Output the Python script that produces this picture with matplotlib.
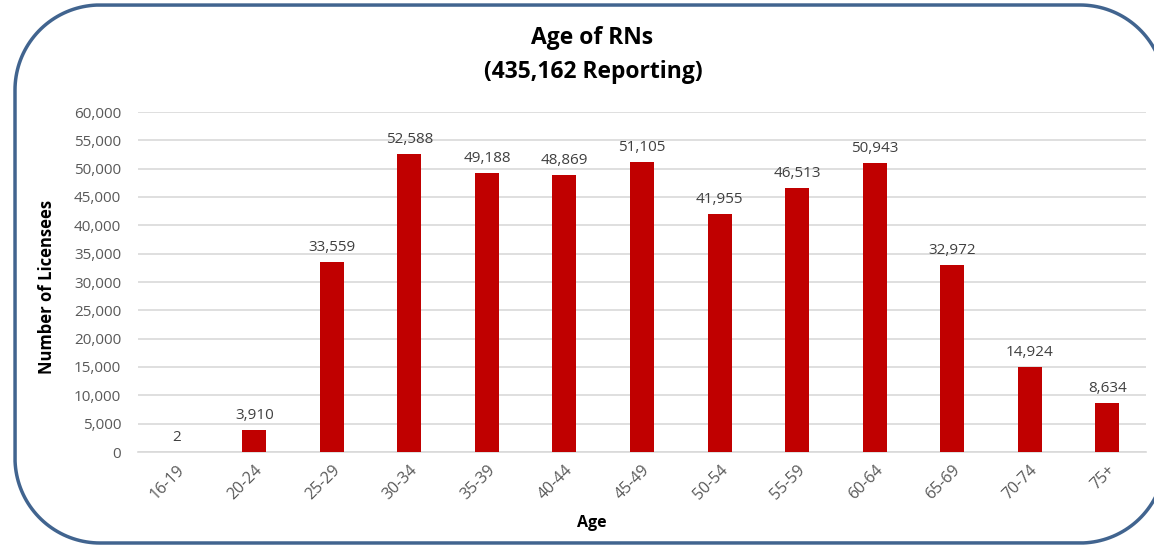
import matplotlib
matplotlib.use("Agg")
import numpy as np
import matplotlib.pyplot as plt
from matplotlib.lines import Line2D
from matplotlib.transforms import IdentityTransform

categories = ["16-19", "20-24", "25-29", "30-34", "35-39", "40-44", "45-49",
              "50-54", "55-59", "60-64", "65-69", "70-74", "75+"]
values = [2, 3910, 33559, 52588, 49188, 48869, 51105, 41955, 46513, 50943, 32972, 14924, 8634]
yticks = list(range(0, 60001, 5000))

plt.rcParams['font.family'] = ['Open Sans', 'DejaVu Sans']

W, H, DPI = 1154, 546, 100
fig = plt.figure(figsize=(W / DPI, H / DPI), dpi=DPI)
ax = fig.add_axes([138 / W, 1 - 452 / H, (1146 - 138) / W, (452 - 112) / H])

x = list(range(len(categories)))
ax.bar(x, values, width=0.31, color="#C00000", zorder=3)
ax.set_xlim(-0.5, len(categories) - 0.5)
ax.set_ylim(0, 60000)
ax.set_yticks(yticks)
ax.set_yticklabels([f"{v:,}" for v in yticks], fontsize=11, color="#595959")
ax.set_xticks(x)
ax.set_xticklabels(categories, rotation=45, ha="right", rotation_mode="anchor",
                   fontsize=11.5, color="#595959")
ax.tick_params(axis="both", length=0)
ax.tick_params(axis="y", pad=12)
ax.tick_params(axis="x", pad=7)
ax.grid(axis="y", color="#D9D9D9", linewidth=1.2, zorder=0)
for s in ["top", "right", "left"]:
    ax.spines[s].set_visible(False)
ax.spines["bottom"].set_color("#D9D9D9")
ax.spines["bottom"].set_linewidth(1.2)

for xi, v in zip(x, values):
    ax.annotate(f"{v:,}", (xi, v), xytext=(0, 5), textcoords="offset points",
                ha="center", va="bottom", fontsize=11, color="#404040")

fig.text(47 / W, 1 - 287 / H, "Number of Licensees", rotation=90, ha="center", va="center",
         fontsize=12, fontweight="bold", color="#000000")
fig.text(592 / W, 1 - 523 / H, "Age", ha="center", va="center",
         fontsize=11.5, fontweight="bold", color="#000000")

fig.text(592 / W, 1 - 38 / H, "Age of RNs", ha="center", va="center",
         fontsize=16.5, fontweight="bold")
fig.text(593 / W, 1 - 72 / H, "(435,162 Reporting)", ha="center", va="center",
         fontsize=16.5, fontweight="bold")

# rounded frame in pixel coordinates (decoration)
r = 85
x0, x1 = 15, 1165
y0, y1 = 3, 541  # from bottom
def arc(cx, cy, a0, a1):
    t = np.linspace(np.radians(a0), np.radians(a1), 40)
    return cx + r * np.cos(t), cy + r * np.sin(t)
pts_x, pts_y = [], []
for cx, cy, a0, a1 in [(x1 - r, y1 - r, 0, 90), (x0 + r, y1 - r, 90, 180),
                       (x0 + r, y0 + r, 180, 270), (x1 - r, y0 + r, 270, 360)]:
    ax_, ay_ = arc(cx, cy, a0, a1)
    pts_x.extend(ax_)
    pts_y.extend(ay_)
pts_x.append(pts_x[0])
pts_y.append(pts_y[0])
fig.add_artist(Line2D(pts_x, pts_y, transform=IdentityTransform(),
                      color="#41648F", linewidth=2.5, solid_joinstyle="round"))

fig.savefig("out.png", dpi=DPI)
